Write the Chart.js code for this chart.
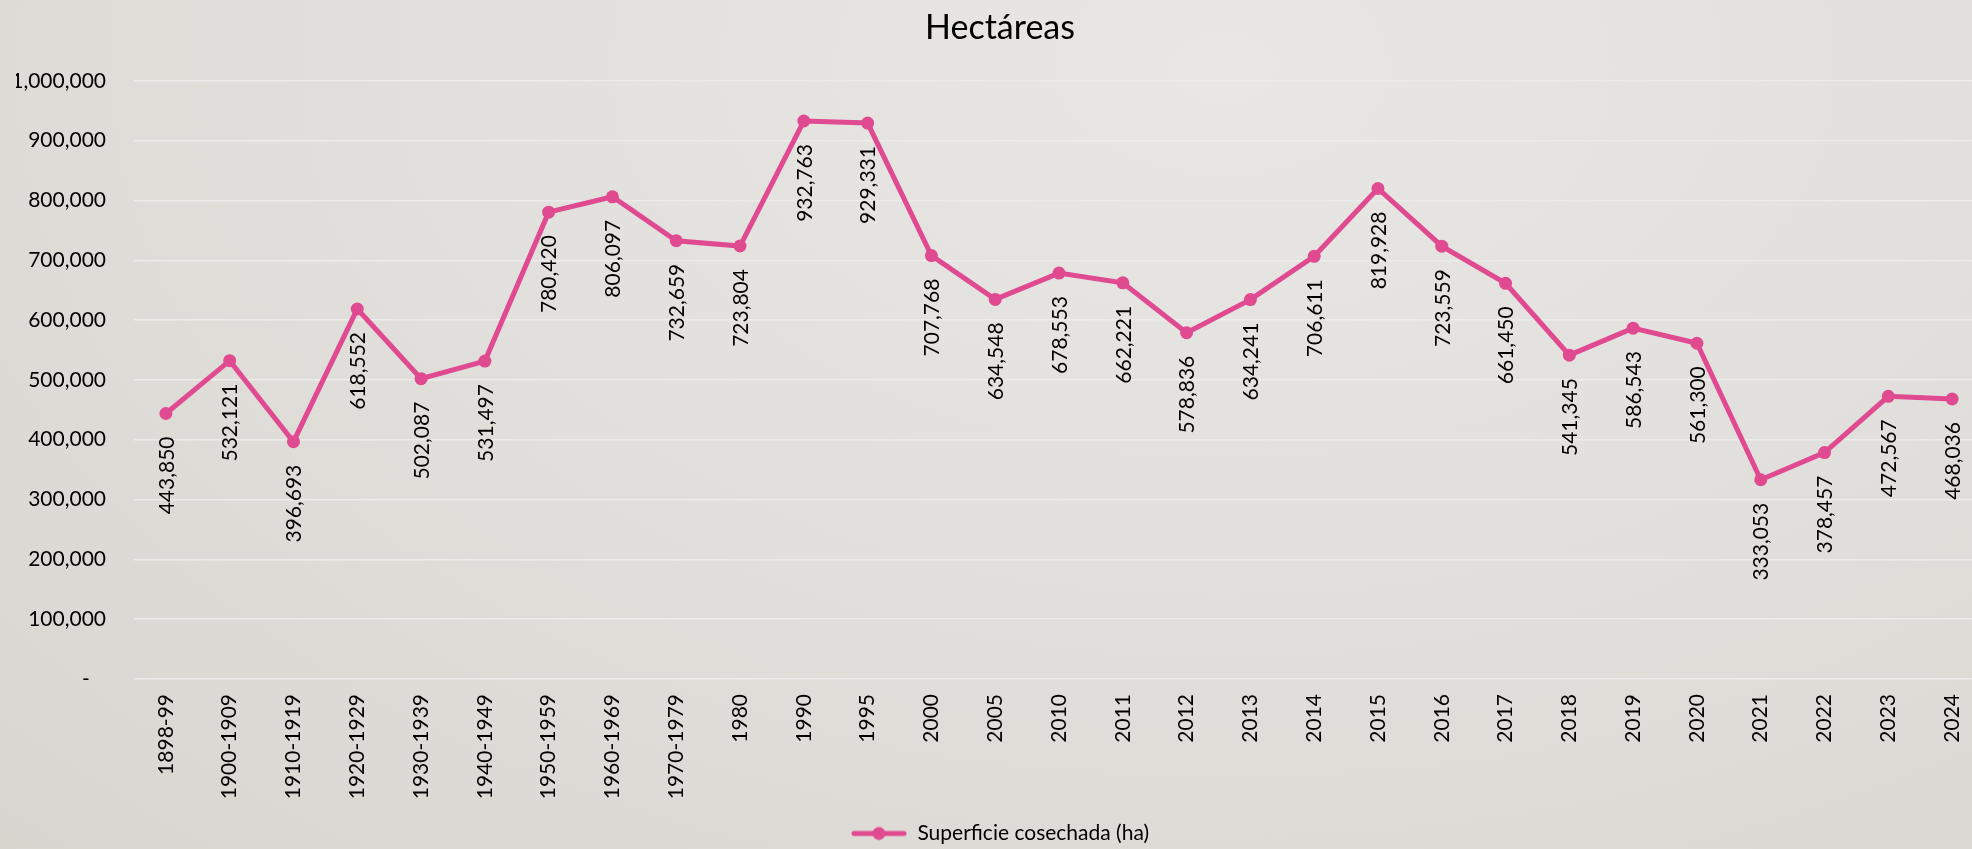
<!DOCTYPE html>
<html lang="es">
<head>
    <meta charset="UTF-8">
    <title>Hectáreas</title>
    <script src="https://cdn.jsdelivr.net/npm/chart.js"></script>
    <style>
        html, body {
            margin: 0;
            padding: 0;
            width: 1972px;
            height: 849px;
            overflow: hidden;
        }
        body {
            background: radial-gradient(ellipse at 62% 8%, #e9e7e4 0%, #e2e0dc 45%, #d9d6d0 100%);
        }
        #chart {
            display: block;
        }
    </style>
</head>
<body>
    <canvas id="chart" width="2000" height="849"></canvas>

    <script>
        // periodos / años
        var periodos = ['1898-99', '1900-1909', '1910-1919', '1920-1929', '1930-1939', '1940-1949',
            '1950-1959', '1960-1969', '1970-1979', '1980', '1990', '1995', '2000', '2005', '2010',
            '2011', '2012', '2013', '2014', '2015', '2016', '2017', '2018', '2019', '2020',
            '2021', '2022', '2023', '2024'];

        // superficie cosechada (ha)
        var superficie = [443850, 532121, 396693, 618552, 502087, 531497,
            780420, 806097, 732659, 723804, 932763, 929331, 707768, 634548, 678553,
            662221, 578836, 634241, 706611, 819928, 723559, 661450, 541345, 586543, 561300,
            333053, 378457, 472567, 468036];

        var yMin = 0;
        var yMax = 1000000;
        var yStep = 100000;

        var fontFam = 'Lato, "Open Sans", sans-serif';
        var rosa = '#DF4A91';

        function fmt(v) {
            return v === 0 ? '-   ' : v.toLocaleString('en-US');
        }

        // icono de la leyenda: línea con punto
        var icono = document.createElement('canvas');
        icono.width = 56;
        icono.height = 16;
        var ic = icono.getContext('2d');
        ic.strokeStyle = rosa;
        ic.lineWidth = 5;
        ic.lineCap = 'round';
        ic.beginPath();
        ic.moveTo(3, 8);
        ic.lineTo(53, 8);
        ic.stroke();
        ic.fillStyle = rosa;
        ic.beginPath();
        ic.arc(28, 8, 6.5, 0, Math.PI * 2);
        ic.fill();

        // etiquetas de datos verticales debajo de cada punto
        var etiquetas = {
            id: 'etiquetas',
            afterDatasetsDraw: function (chart) {
                var ctx = chart.ctx;
                var meta = chart.getDatasetMeta(0);
                var data = chart.data.datasets[0].data;
                ctx.save();
                ctx.font = '21px ' + fontFam;
                ctx.fillStyle = '#000';
                ctx.textAlign = 'right';
                ctx.textBaseline = 'middle';
                meta.data.forEach(function (pt, i) {
                    ctx.save();
                    ctx.translate(pt.x + 1, pt.y + 23);
                    ctx.rotate(-Math.PI / 2);
                    ctx.fillText(fmt(data[i]), 0, 0);
                    ctx.restore();
                });
                ctx.restore();
            }
        };

        var chart = new Chart(document.getElementById('chart').getContext('2d'), {
            type: 'line',
            data: {
                labels: periodos,
                datasets: [{
                    label: 'Superficie cosechada (ha)',
                    data: superficie,
                    borderColor: rosa,
                    backgroundColor: rosa,
                    borderWidth: 5,
                    pointRadius: 6.5,
                    pointHoverRadius: 6.5,
                    pointBackgroundColor: rosa,
                    pointBorderWidth: 0,
                    tension: 0
                }]
            },
            options: {
                responsive: false,
                animation: false,
                layout: {
                    padding: { left: 16, right: 16, top: 0, bottom: -5 }
                },
                plugins: {
                    title: {
                        display: true,
                        text: 'Hectáreas',
                        color: '#000',
                        font: { family: fontFam, size: 34, weight: 'normal' },
                        padding: { top: 8, bottom: 32 }
                    },
                    legend: {
                        position: 'bottom',
                        labels: {
                            color: '#000',
                            font: { family: fontFam, size: 21 },
                            usePointStyle: true,
                            pointStyle: icono,
                            pointStyleWidth: 56,
                            padding: 3
                        }
                    },
                    tooltip: { enabled: false }
                },
                scales: {
                    x: {
                        offset: true,
                        grid: { display: false, drawTicks: false },
                        border: { display: false },
                        ticks: {
                            color: '#000',
                            font: { family: fontFam, size: 21 },
                            minRotation: 90,
                            maxRotation: 90,
                            padding: 15,
                            autoSkip: false
                        },
                        afterFit: function (scale) {
                            scale.height = 141;
                        }
                    },
                    y: {
                        min: yMin,
                        max: yMax,
                        grid: {
                            color: 'rgba(236,236,236,0.95)',
                            lineWidth: 1.5,
                            drawTicks: false
                        },
                        border: { display: false },
                        ticks: {
                            stepSize: yStep,
                            color: '#000',
                            font: { family: fontFam, size: 21 },
                            padding: 28,
                            callback: function (v) { return fmt(v); }
                        },
                        afterFit: function (scale) {
                            scale.width = 118;
                        }
                    }
                }
            },
            plugins: [etiquetas]
        });
    </script>
</body>
</html>
